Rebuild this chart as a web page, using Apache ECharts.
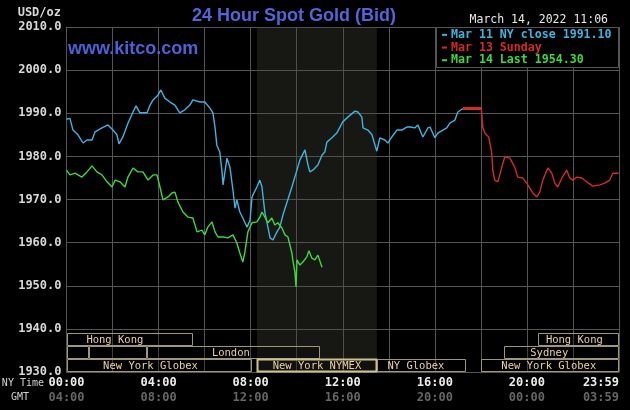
<!DOCTYPE html>
<html>
<head>
<meta charset="utf-8">
<script src="https://cdn.jsdelivr.net/npm/echarts@6/dist/echarts.min.js"></script>
<style>html,body{margin:0;padding:0;background:#000;}#c{width:630px;height:410px;}</style>
</head>
<body>
<div id="c"></div>
<script>
// ---- data (hours in NY time, USD/oz) ----
var nyCloseHours = [0,0.15,0.28,0.5,0.72,0.89,1.11,1.24,1.54,1.8,2.02,2.19,2.28,2.45,2.67,2.89,3.02,3.19,3.5,3.63,3.76,3.97,4.1,4.27,4.49,4.71,4.92,5.14,5.36,5.49,5.8,6.01,6.23,6.36,6.45,6.53,6.66,6.75,6.8,6.97,7.1,7.23,7.32,7.4,7.53,7.66,7.84,7.97,8.06,8.27,8.4,8.49,8.62,8.75,8.84,8.97,9.14,9.27,9.4,9.61,9.79,9.92,10.14,10.36,10.49,10.57,10.7,10.92,11.1,11.22,11.31,11.53,11.74,12.0,12.22,12.53,12.66,12.83,12.88,13.09,13.27,13.4,13.48,13.61,13.83,13.96,14.13,14.35,14.57,14.78,14.92,15.13,15.26,15.48,15.7,15.79,16.0,16.13,16.35,16.52,16.65,16.87,17.0,17.22];
var nyCloseValues = [1988.6,1988.8,1986.1,1985.0,1983.1,1983.8,1983.8,1985.7,1986.6,1987.3,1986.1,1985.0,1982.9,1984.5,1987.7,1990.3,1991.7,1990.1,1990.1,1991.9,1993.1,1994.2,1995.4,1993.5,1992.6,1991.9,1990.1,1990.8,1991.9,1993.1,1992.6,1992.6,1991.2,1990.1,1986.8,1982.6,1981.0,1976.8,1973.4,1979.6,1977.5,1972.2,1968.0,1969.9,1967.1,1965.7,1963.6,1965.2,1970.6,1972.9,1974.5,1972.9,1966.9,1963.6,1961.1,1960.6,1962.5,1963.6,1966.4,1969.9,1972.9,1975.2,1979.2,1981.5,1978.0,1976.4,1976.8,1978.0,1980.3,1981.0,1983.3,1984.3,1985.4,1988.0,1989.1,1990.5,1990.3,1989.1,1986.6,1986.1,1985.0,1982.6,1981.2,1984.3,1983.8,1983.1,1984.5,1986.1,1986.1,1986.8,1986.8,1986.6,1987.3,1984.5,1986.6,1986.8,1984.3,1985.4,1986.1,1986.6,1987.7,1988.4,1990.3,1991.1];

var sundayFlatHours = [17.22,18.02];
var sundayFlatValues = [1991.1,1991.1];
var sundayHours = [17.22,18.02,18.08,18.17,18.25,18.34,18.47,18.52,18.6,18.74,18.91,19.04,19.26,19.47,19.6,19.82,20.04,20.26,20.43,20.56,20.69,20.91,21.08,21.21,21.34,21.52,21.73,21.86,21.99,22.17,22.38,22.6,22.86,23.17,23.38,23.6,23.73,23.98];
var sundayValues = [1991.1,1991.1,1986.8,1985.4,1985.7,1984.5,1980.8,1976.8,1974.5,1974.1,1977.5,1979.9,1979.6,1977.5,1975.2,1975.0,1973.4,1971.5,1970.6,1971.7,1974.5,1977.3,1976.1,1973.8,1972.9,1975.0,1976.8,1975.0,1974.5,1975.2,1975.0,1974.1,1973.1,1973.4,1973.8,1974.5,1976.1,1976.1];

var todayHours = [0,0.15,0.37,0.67,0.89,1.11,1.32,1.54,1.76,1.98,2.11,2.32,2.54,2.67,2.89,3.1,3.32,3.54,3.76,3.93,4.06,4.19,4.41,4.58,4.71,4.84,5.06,5.28,5.49,5.67,5.88,6.01,6.14,6.32,6.45,6.58,6.8,7.01,7.23,7.4,7.53,7.66,7.75,7.88,8.06,8.27,8.4,8.49,8.62,8.75,8.92,9.05,9.18,9.36,9.49,9.62,9.79,9.83,9.92,9.97,10.01,10.14,10.27,10.44,10.53,10.66,10.79,10.92,11.0,11.1];
var todayValues = [1976.8,1975.7,1976.1,1975.2,1976.4,1977.8,1976.4,1975.7,1974.1,1972.9,1974.5,1974.1,1972.9,1975.2,1977.3,1976.4,1976.4,1974.5,1975.7,1975.7,1972.9,1969.9,1970.6,1971.5,1971.7,1969.4,1967.1,1965.9,1965.7,1962.5,1962.9,1961.8,1963.6,1964.8,1962.5,1961.3,1961.3,1961.1,1961.8,1959.9,1957.6,1955.5,1957.8,1962.5,1964.6,1964.8,1965.9,1967.1,1965.9,1964.6,1965.7,1964.1,1964.6,1963.4,1961.8,1961.3,1957.6,1956.0,1953.2,1949.7,1956.0,1954.8,1955.5,1956.7,1958.1,1956.4,1956.0,1957.1,1956.7,1954.3];

var seriesNames = ['Mar 11 NY close 1991.10','Mar 13 Sunday','Mar 14 Last 1954.30'];

var tickHours = [0,4,8,12,16,20,24];
var nyTimeLabels = ['00:00','04:00','08:00','12:00','16:00','20:00','23:59'];
var gmtLabels = ['04:00','08:00','12:00','16:00','20:00','00:00','03:59'];

var nymexShade = [[8.27,13.48]];

var sessionStart = [0,0,0.96,3.5,0,8.27,13.48,18.0,19.0,20.5];
var sessionEnd   = [5.5,0.96,3.5,11.0,8.07,13.48,17.35,24,24,24];
var sessionRow   = [0,1,1,1,2,2,2,2,1,0];
var sessionName  = ['Hong Kong','','','London','New York Globex','New York NYMEX','NY Globex','New York Globex','Sydney','Hong Kong'];
var sessionLabelAt = [2.1,null,null,7.14,3.65,10.88,15.18,20.95,20.97,22.06];

// ---- build ----
function zip(a,b){return a.map(function(v,i){return [v,b[i]];});}
var sessionData = sessionStart.map(function(s,i){return [s,sessionEnd[i],sessionRow[i],sessionLabelAt[i]==null?-1:sessionLabelAt[i],i];});

var cyan='#3db4e0', red='#d42a2a', green='#3ed83e';
var mono='"DejaVu Sans Mono", monospace';
var chart = echarts.init(document.getElementById('c'), null, {renderer:'canvas'});
chart.setOption({
  backgroundColor:'#000',
  animation:false,
  grid:{left:66.5,right:11,top:27,bottom:38,containLabel:false,outerBoundsMode:'none'},
  legend:{
    orient:'vertical',left:442,top:28.5,padding:0,itemGap:0,itemWidth:5,itemHeight:2,icon:'rect',selectedMode:false,z:20,
    textStyle:{fontFamily:mono,fontWeight:'bold',fontSize:11.6,lineHeight:12.7,padding:[0,0,0,-1]},
    data:[
      {name:seriesNames[0],textStyle:{color:cyan}},
      {name:seriesNames[1],textStyle:{color:red}},
      {name:seriesNames[2],textStyle:{color:green}}
    ]
  },
  xAxis:{
    type:'value',min:0,max:24,interval:2,
    axisLine:{show:true,lineStyle:{color:'#555'}},
    axisTick:{show:false},
    splitLine:{show:true,lineStyle:{color:'#555',width:1}},
    axisLabel:{
      margin:4,alignMaxLabel:'right',
      formatter:function(v){var i=tickHours.indexOf(v);if(i<0)return '';return '{a|'+nyTimeLabels[i]+'}\n{b|'+gmtLabels[i]+'}';},
      rich:{
        a:{fontFamily:mono,fontWeight:'bold',fontSize:12,color:'#ececec',lineHeight:14.5},
        b:{fontFamily:mono,fontWeight:'bold',fontSize:12,color:'#666',lineHeight:14.5}
      }
    }
  },
  yAxis:{
    type:'value',min:1930,max:2010,interval:10,
    axisLine:{show:true,lineStyle:{color:'#555'}},
    axisTick:{show:false},
    splitLine:{show:true,lineStyle:{color:'#555',width:1}},
    axisLabel:{margin:5,fontFamily:mono,fontWeight:'bold',fontSize:12,color:'#d8d8d8',formatter:function(v){return v.toFixed(1);}}
  },
  graphic:[
    {type:'text',x:294,y:16,z:10,style:{text:'24 Hour Spot Gold (Bid)',fill:'#5066d8',font:'bold 18px "Liberation Sans", Arial, sans-serif',textAlign:'center',textVerticalAlign:'middle'}},
    {type:'text',x:68,y:49,z:10,style:{text:'www.kitco.com',fill:'#4a62d4',font:'bold 18px "Liberation Sans", Arial, sans-serif',textAlign:'left',textVerticalAlign:'middle'}},
    {type:'text',x:608,y:20,style:{text:'March 14, 2022 11:06',fill:'#e8e8e8',font:'11.5px "DejaVu Sans Mono", monospace',textAlign:'right',textVerticalAlign:'middle'}},
    {type:'text',x:61,y:13,style:{text:'USD/oz',fill:'#d8d8d8',font:'bold 12px "DejaVu Sans Mono", monospace',textAlign:'right',textVerticalAlign:'middle'}},
    {type:'text',x:44,y:383,style:{text:'NY Time',fill:'#d0d0d0',font:'10px "DejaVu Sans Mono", monospace',textAlign:'right',textVerticalAlign:'middle'}},
    {type:'text',x:11,y:397,style:{text:'GMT',fill:'#d0d0d0',font:'10px "DejaVu Sans Mono", monospace',textAlign:'left',textVerticalAlign:'middle'}},
    {type:'rect',z:2,shape:{x:436.5,y:27.5,width:182,height:40},style:{fill:'#000',stroke:'#555',lineWidth:1}}
  ],
  series:[
    {
      type:'custom',name:'shade',silent:true,z:1,
      data:nymexShade,
      renderItem:function(params,api){
        var p0=api.coord([api.value(0),2010]);var p1=api.coord([api.value(1),1930]);
        return {type:'rect',shape:{x:p0[0],y:p0[1],width:p1[0]-p0[0],height:p1[1]-p0[1]},style:{fill:'rgba(70,74,60,0.33)'}};
      }
    },
    {
      type:'custom',name:'sessions',silent:true,z:3,
      data:sessionData,
      renderItem:function(params,api){
        var s=api.value(0),e=api.value(1),row=api.value(2),lab=api.value(3),idx=api.value(4);
        var yTop=api.coord([0,1940])[1], yBot=api.coord([0,1930])[1];
        var rowH=(yBot-yTop-4)/3;
        var x0=Math.round(api.coord([s,1935])[0])+0.5, x1=Math.round(api.coord([e,1935])[0])-0.5;
        var y0=Math.round(yTop+4+row*rowH)+0.5;
        var h=Math.round(rowH)-1;
        var name=sessionName[idx];
        var isNymex=(name==='New York NYMEX');
        var children=[{type:'rect',shape:{x:x0,y:y0,width:x1-x0,height:h},style:{fill:'rgba(0,0,0,0.25)',stroke:isNymex?'#cfc290':'#a0967a',lineWidth:isNymex?2:1}}];
        if(name){
          var lx=api.coord([lab,1935])[0];
          children.push({type:'text',style:{x:lx,y:y0+h/2+0.5,text:name,fill:'#e8d2a2',font:'10.5px "DejaVu Sans Mono", monospace',textAlign:'center',textVerticalAlign:'middle'}});
        }
        return {type:'group',children:children};
      }
    },
    {type:'line',name:seriesNames[0],data:zip(nyCloseHours,nyCloseValues),showSymbol:false,color:cyan,lineStyle:{width:1.4,color:cyan},z:4},
    {type:'line',name:seriesNames[1],data:zip(sundayHours,sundayValues),showSymbol:false,color:red,lineStyle:{width:1.4,color:red},z:4},
    {type:'line',name:seriesNames[1],data:zip(sundayFlatHours,sundayFlatValues),showSymbol:false,color:red,lineStyle:{width:3.2,color:red},z:4},
    {type:'line',name:seriesNames[2],data:zip(todayHours,todayValues),showSymbol:false,color:green,lineStyle:{width:1.4,color:green},z:4}
  ]
});
</script>
</body>
</html>
